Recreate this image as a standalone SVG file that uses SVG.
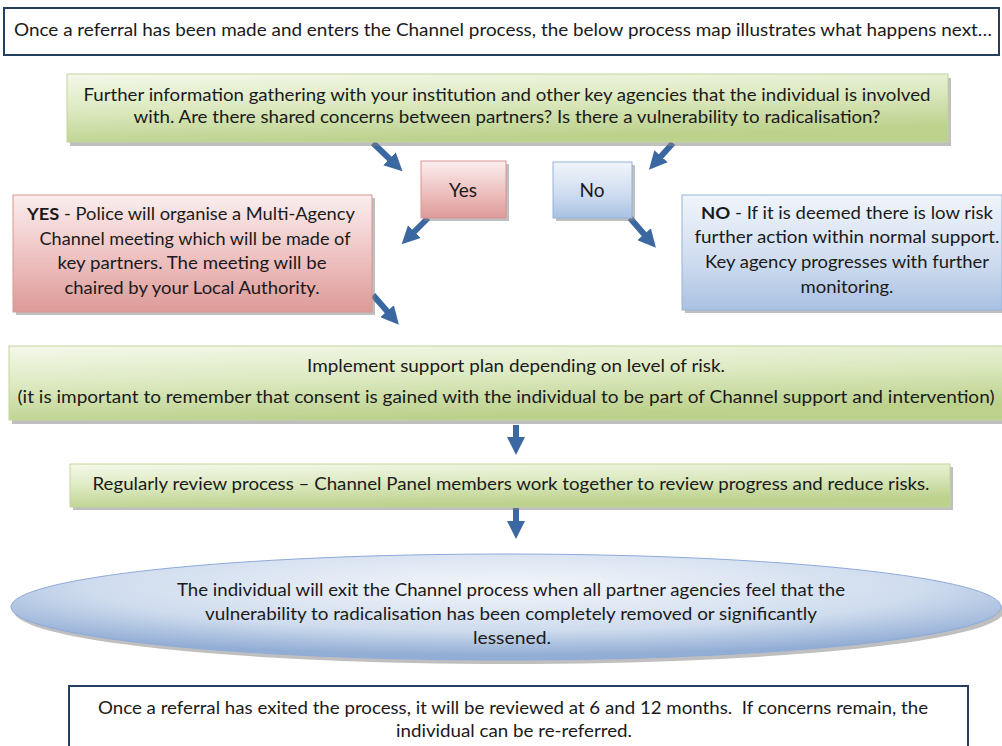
<svg xmlns="http://www.w3.org/2000/svg" width="1002" height="746" viewBox="0 0 1002 746">
<defs>
<style>
text{font-family:Lato,"Open Sans","Liberation Sans",sans-serif;fill:#1a1a1a;text-anchor:middle}
.t{font-size:17px}
.frame{fill:#ffffff;stroke:#243f60;stroke-width:2}
.green{fill:url(#gG);stroke:#c3d69b;stroke-width:1}
.pink{fill:url(#gP);stroke:#d99694;stroke-width:1}
.blue{fill:url(#gB);stroke:#95b3d7;stroke-width:1}
.shadow{fill:#7f7f7f;opacity:0.5}
.conn{stroke:#3b68a0;stroke-width:6;fill:none;marker-end:url(#ah)}
</style>
<linearGradient id="gG" x1="0" y1="0" x2="0.3" y2="1">
<stop offset="0" stop-color="#f4f8ea"/><stop offset="0.5" stop-color="#dce9c0"/><stop offset="1" stop-color="#bcd18c"/>
</linearGradient>
<linearGradient id="gP" x1="0" y1="0" x2="0" y2="1">
<stop offset="0" stop-color="#fbeeee"/><stop offset="0.6" stop-color="#ecbcbb"/><stop offset="1" stop-color="#dc9a98"/>
</linearGradient>
<linearGradient id="gB" x1="0" y1="0" x2="0" y2="1">
<stop offset="0" stop-color="#f1f5fb"/><stop offset="0.6" stop-color="#cddbef"/><stop offset="1" stop-color="#a9c1e2"/>
</linearGradient>
<radialGradient id="gE" cx="0.5" cy="0.3" r="0.65">
<stop offset="0" stop-color="#f3f6fb"/><stop offset="0.65" stop-color="#cfdcee"/><stop offset="1" stop-color="#93aed5"/>
</radialGradient>
<marker id="ah" viewBox="0 0 10 10" refX="5" refY="5" markerWidth="3" markerHeight="3" orient="auto" markerUnits="strokeWidth">
<path d="M0,0 L10,5 L0,10 z" fill="#3b68a0"/>
</marker>
</defs>

<g id="connectors">
<line class="conn" x1="373" y1="143" x2="396" y2="165"/>
<line class="conn" x1="673" y1="143" x2="655" y2="163"/>
<line class="conn" x1="428" y1="218" x2="408" y2="238"/>
<line class="conn" x1="630" y1="218" x2="650" y2="241"/>
<line class="conn" x1="373" y1="295" x2="393" y2="318"/>
<line class="conn" x1="516" y1="425" x2="516" y2="446"/>
<line class="conn" x1="516" y1="508" x2="516" y2="530"/>
</g>

<g id="intro">
<rect class="frame" x="4" y="8" width="995" height="47"/>
<text class="t" x="503" y="36" textLength="978" lengthAdjust="spacingAndGlyphs">Once a referral has been made and enters the Channel process, the below process map illustrates what happens next…</text>
</g>

<g id="gather">
<rect class="shadow" x="70" y="78" width="881" height="68"/>
<rect class="green" x="67" y="74" width="881" height="68"/>
<text class="t" x="507" y="101" textLength="847" lengthAdjust="spacingAndGlyphs">Further information gathering with your institution and other key agencies that the individual is involved</text>
<text class="t" x="507" y="123" textLength="747" lengthAdjust="spacingAndGlyphs">with. Are there shared concerns between partners? Is there a vulnerability to radicalisation?</text>
</g>

<g id="yes">
<rect class="shadow" x="424" y="164" width="85" height="57"/>
<rect class="pink" x="421" y="161" width="85" height="57"/>
<text x="463" y="197" style="font-size:19px">Yes</text>
</g>

<g id="no">
<rect class="shadow" x="556" y="165" width="79" height="56"/>
<rect class="blue" x="553" y="162" width="79" height="56"/>
<text x="592" y="197" style="font-size:19px">No</text>
</g>

<g id="yes-detail">
<rect class="shadow" x="16" y="198" width="359" height="117"/>
<rect class="pink" x="13" y="195" width="359" height="117"/>
<text class="t" x="191" y="220" textLength="328" lengthAdjust="spacingAndGlyphs"><tspan font-weight="bold">YES</tspan> - Police will organise a Multi-Agency</text>
<text class="t" x="195" y="245" textLength="311" lengthAdjust="spacingAndGlyphs">Channel meeting which will be made of</text>
<text class="t" x="192" y="269" textLength="269" lengthAdjust="spacingAndGlyphs">key partners. The meeting will be</text>
<text class="t" x="192" y="294" textLength="255" lengthAdjust="spacingAndGlyphs">chaired by your Local Authority.</text>
</g>

<g id="no-detail">
<rect class="shadow" x="685" y="198" width="320" height="115"/>
<rect class="blue" x="682" y="195" width="320" height="115"/>
<text class="t" x="847" y="219" textLength="292" lengthAdjust="spacingAndGlyphs"><tspan font-weight="bold">NO</tspan> - If it is deemed there is low risk</text>
<text class="t" x="847" y="243" textLength="305" lengthAdjust="spacingAndGlyphs">further action within normal support.</text>
<text class="t" x="847" y="268" textLength="284" lengthAdjust="spacingAndGlyphs">Key agency progresses with further</text>
<text class="t" x="847" y="293" textLength="93" lengthAdjust="spacingAndGlyphs">monitoring.</text>
</g>

<g id="support">
<rect class="shadow" x="12" y="350" width="995" height="74"/>
<rect class="green" x="9" y="346" width="995" height="74"/>
<text class="t" x="516" y="372" textLength="418" lengthAdjust="spacingAndGlyphs">Implement support plan depending on level of risk.</text>
<text class="t" x="506" y="403" textLength="977" lengthAdjust="spacingAndGlyphs">(it is important to remember that consent is gained with the individual to be part of Channel support and intervention)</text>
</g>

<g id="review">
<rect class="shadow" x="73" y="467" width="880" height="43"/>
<rect class="green" x="70" y="464" width="880" height="43"/>
<text class="t" x="511" y="490" textLength="837" lengthAdjust="spacingAndGlyphs">Regularly review process – Channel Panel members work together to review progress and reduce risks.</text>
</g>

<g id="exit">
<ellipse cx="509" cy="611" rx="495" ry="53" class="shadow"/>
<ellipse cx="506" cy="607" rx="495" ry="53" fill="url(#gE)" stroke="#8eaadb" stroke-width="1"/>
<text class="t" x="511" y="596" textLength="668" lengthAdjust="spacingAndGlyphs">The individual will exit the Channel process when all partner agencies feel that the</text>
<text class="t" x="511" y="620" textLength="612" lengthAdjust="spacingAndGlyphs">vulnerability to radicalisation has been completely removed or significantly</text>
<text class="t" x="512" y="644" textLength="78" lengthAdjust="spacingAndGlyphs">lessened.</text>
</g>

<g id="followup">
<rect class="frame" x="69" y="686" width="899" height="66"/>
<text class="t" x="513" y="714" textLength="830" lengthAdjust="spacingAndGlyphs" xml:space="preserve">Once a referral has exited the process, it will be reviewed at 6 and 12 months.  If concerns remain, the</text>
<text class="t" x="514" y="737" textLength="236" lengthAdjust="spacingAndGlyphs">individual can be re-referred.</text>
</g>
</svg>
